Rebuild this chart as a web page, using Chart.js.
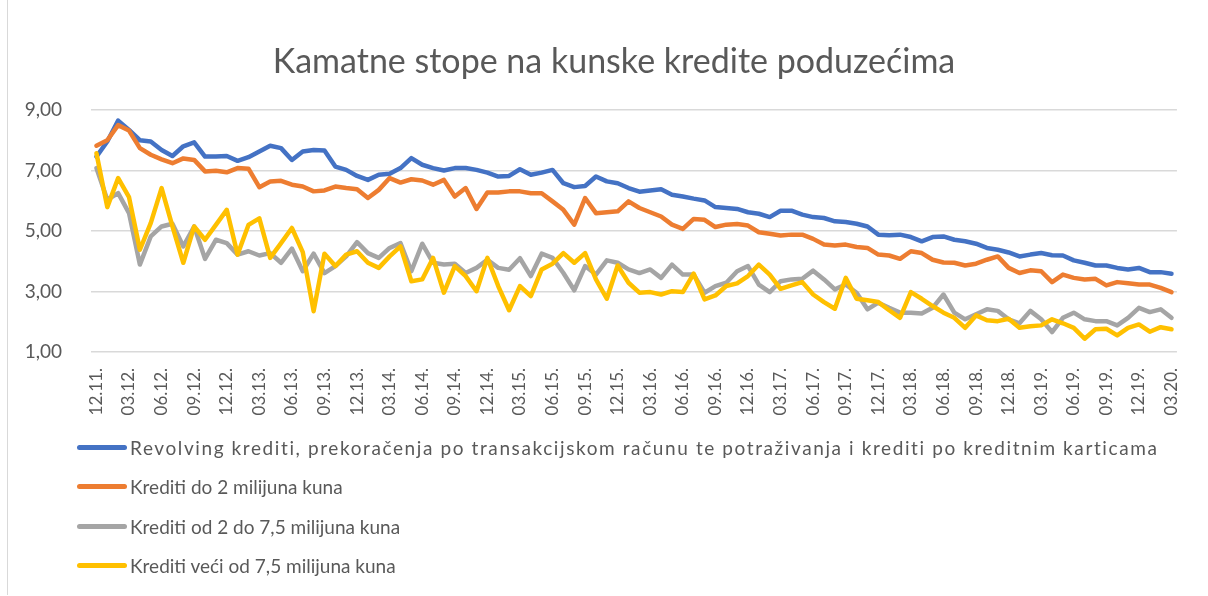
<!DOCTYPE html>
<html>
<head>
<meta charset="utf-8">
<script src="https://cdn.jsdelivr.net/npm/chart.js@4"></script>
<style>
  html, body { margin: 0; padding: 0; background: #fff; }
  #wrap { position: relative; width: 1208px; height: 596px; font-family: Lato, sans-serif; }
  #frame { position: absolute; left: 7px; top: 0; width: 1193px; height: 595px; border-left: 1px solid #d9d9d9; }
  #title { position: absolute; left: 0; top: 39px; width: 1228px; text-align: center; color: #595959; font-size: 34px; line-height: 41px; white-space: nowrap; }
  #legend { position: absolute; left: 77px; top: 428px; color: #595959; font-size: 19px; }
  .lg-row { height: 39.3px; display: flex; align-items: center; white-space: nowrap; }
  .lg-line { width: 50px; height: 5px; border-radius: 3px; margin-right: 3px; }
  .lg-row.wide span:last-child { letter-spacing: 1.6px; }
</style>
</head>
<body>
<div id="wrap">
  <div id="frame"></div>
  <canvas id="chart" width="1208" height="596"></canvas>
  <div id="title">Kamatne stope na kunske kredite poduzećima</div>
  <div id="legend"></div>
</div>
<script>
// mjesečni podaci 12.11. - 03.20.
const months = [];
for (let i = 0; i < 100; i++) {
  const m = (11 + i) % 12 + 1;
  const y = 11 + Math.floor((11 + i) / 12);
  months.push(String(m).padStart(2, '0') + '.' + String(y).padStart(2, '0') + '.');
}

const seriesNames = [
  'Revolving krediti, prekoračenja po transakcijskom računu te potraživanja i krediti po kreditnim karticama',
  'Krediti do 2 milijuna kuna',
  'Krediti od 2 do 7,5 milijuna kuna',
  'Krediti veći od 7,5 milijuna kuna'
];
const seriesColors = ['#4472C4', '#ED7D31', '#A5A5A5', '#FFC000'];

const revolving = [
  7.46, 7.96, 8.65, 8.34, 8.0, 7.96, 7.68, 7.48, 7.8, 7.93, 7.46, 7.46, 7.48, 7.32, 7.44, 7.63, 7.82, 7.74, 7.35, 7.63,
  7.68, 7.66, 7.13, 7.02, 6.82, 6.69, 6.86, 6.89, 7.08, 7.41, 7.19, 7.08, 7.0, 7.08, 7.08, 7.02, 6.93, 6.8, 6.82, 7.04,
  6.86, 6.93, 7.02, 6.58, 6.45, 6.49, 6.8, 6.64, 6.58, 6.42, 6.3, 6.34, 6.38, 6.2, 6.14, 6.07, 6.01, 5.79, 5.76,
  5.73, 5.62, 5.57, 5.46, 5.67, 5.67, 5.54, 5.46, 5.43, 5.32, 5.3, 5.24, 5.15, 4.88, 4.86, 4.88, 4.8, 4.66, 4.8, 4.82,
  4.71, 4.66, 4.58, 4.44, 4.38, 4.29, 4.16, 4.22, 4.27, 4.2, 4.19, 4.03, 3.95, 3.86, 3.86, 3.78, 3.73, 3.78, 3.64, 3.64, 3.59
];
const doDva = [
  7.82, 8.0, 8.5, 8.32, 7.74, 7.52, 7.37, 7.24, 7.4, 7.35, 6.97, 6.99, 6.94, 7.08, 7.06, 6.45, 6.64, 6.66, 6.53, 6.47,
  6.31, 6.34, 6.47, 6.42, 6.38, 6.09, 6.36, 6.75, 6.6, 6.71, 6.67, 6.53, 6.69, 6.14, 6.42, 5.73, 6.27, 6.27, 6.31, 6.31,
  6.25, 6.25, 5.98, 5.7, 5.21, 6.09, 5.59, 5.62, 5.65, 5.98, 5.76, 5.62, 5.48, 5.21, 5.07, 5.4, 5.37, 5.13, 5.21,
  5.23, 5.18, 4.96, 4.91, 4.85, 4.88, 4.88, 4.74, 4.55, 4.52, 4.55, 4.47, 4.44, 4.22, 4.19, 4.08, 4.33, 4.27, 4.05, 3.96,
  3.95, 3.86, 3.92, 4.05, 4.16, 3.78, 3.61, 3.7, 3.67, 3.31, 3.56, 3.45, 3.4, 3.42, 3.2, 3.31, 3.27, 3.23, 3.23, 3.12, 2.98
];
const odDvaDo75 = [
  7.08, 6.03, 6.25, 5.59, 3.89, 4.82, 5.15, 5.24, 4.49, 5.15, 4.08, 4.71, 4.6, 4.22, 4.33, 4.19, 4.27, 3.95, 4.42, 3.67,
  4.25, 3.61, 3.84, 4.16, 4.63, 4.27, 4.11, 4.44, 4.6, 3.67, 4.58, 3.95, 3.89, 3.92, 3.61, 3.78, 4.05, 3.78, 3.72, 4.1,
  3.51, 4.25, 4.11, 3.61, 3.04, 3.84, 3.56, 4.03, 3.95, 3.73, 3.61, 3.73, 3.45, 3.89, 3.56, 3.56, 2.96, 3.18, 3.29,
  3.67, 3.84, 3.23, 2.98, 3.34, 3.4, 3.42, 3.69, 3.4, 3.07, 3.23, 2.96, 2.41, 2.63, 2.46, 2.3, 2.3, 2.27, 2.46, 2.9,
  2.3, 2.08, 2.25, 2.41, 2.36, 2.08, 1.95, 2.36, 2.08, 1.66, 2.13, 2.3, 2.08, 2.02, 2.02, 1.88, 2.13, 2.46, 2.32, 2.41, 2.13
];
const preko75 = [
  7.57, 5.79, 6.75, 6.12, 4.38, 5.26, 6.42, 5.15, 3.95, 5.15, 4.71, 5.2, 5.7, 4.22, 5.2, 5.42, 4.11, 4.6, 5.1, 4.3,
  2.35, 4.25, 3.84, 4.22, 4.33, 3.95, 3.78, 4.16, 4.49, 3.34, 3.4, 4.11, 2.96, 3.84, 3.51, 3.01, 4.11, 3.18, 2.38, 3.18,
  2.85, 3.73, 3.92, 4.27, 3.95, 4.27, 3.4, 2.76, 3.86, 3.29, 2.96, 2.98, 2.9, 3.01, 2.98, 3.59, 2.74, 2.87, 3.18,
  3.27, 3.51, 3.89, 3.56, 3.09, 3.2, 3.31, 2.9, 2.65, 2.43, 3.45, 2.76, 2.71, 2.65, 2.38, 2.13, 2.98, 2.76, 2.52, 2.3,
  2.13, 1.8, 2.21, 2.05, 2.02, 2.1, 1.8, 1.85, 1.88, 2.08, 1.95, 1.8, 1.44, 1.75, 1.77, 1.55, 1.8, 1.91, 1.67, 1.82, 1.75
];

const allSeries = [revolving, doDva, odDvaDo75, preko75];
const textColor = '#595959';

const datasets = allSeries.map((data, i) => ({
  label: seriesNames[i],
  data: data,
  borderColor: seriesColors[i],
  backgroundColor: seriesColors[i],
  borderWidth: 4.5,
  pointRadius: 0,
  pointHoverRadius: 0,
  tension: 0,
  fill: false,
  borderJoinStyle: 'round',
  borderCapStyle: 'round',
  order: 4 - i
}));

new Chart(document.getElementById('chart'), {
  type: 'line',
  data: { labels: months, datasets: datasets },
  options: {
    responsive: false,
    animation: false,
    layout: { padding: { left: 0, right: 20, top: 110, bottom: 164 } },
    plugins: {
      legend: { display: false },
      tooltip: { enabled: false },
      title: { display: false }
    },
    scales: {
      x: {
        offset: true,
        grid: { display: false, drawTicks: false },
        border: { display: false },
        afterFit: s => { s.height = 80; },
        ticks: {
          autoSkip: false,
          minRotation: 90,
          maxRotation: 90,
          padding: 16,
          color: textColor,
          font: { family: 'Lato', size: 17 },
          callback: (v, i) => (i % 3 === 0 ? months[i] : '')
        }
      },
      y: {
        min: 1,
        max: 9,
        border: { display: false },
        afterFit: s => { s.width = 91; },
        grid: { color: '#d9d9d9', lineWidth: 1.5, drawTicks: false },
        ticks: {
          stepSize: 2,
          padding: 29,
          color: textColor,
          font: { family: 'Lato', size: 19 },
          callback: v => v.toFixed(2).replace('.', ',')
        }
      }
    }
  }
});

// legenda u stupcu, kao u originalu
const legend = document.getElementById('legend');
seriesNames.forEach((name, i) => {
  const row = document.createElement('div');
  row.className = 'lg-row' + (i === 0 ? ' wide' : '');
  row.innerHTML = '<span class="lg-line" style="background:' + seriesColors[i] + '"></span><span>' + name + '</span>';
  legend.appendChild(row);
});
</script>
</body>
</html>
